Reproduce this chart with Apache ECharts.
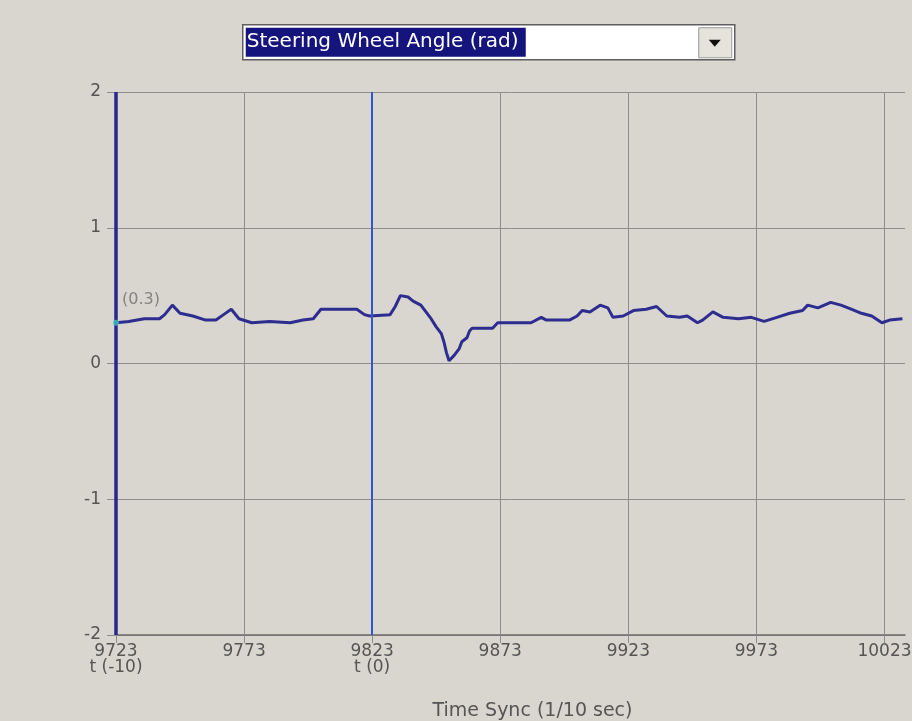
<!DOCTYPE html>
<html>
<head>
<meta charset="utf-8">
<script src="https://cdn.jsdelivr.net/npm/echarts@6/dist/echarts.min.js"></script>
<style>
  html, body { margin: 0; padding: 0; background: #d9d6d0; }
  #chart { width: 912px; height: 721px; }
</style>
</head>
<body>
<div id="chart"></div>
<script>
// Time sync ticks (1/10 sec) and their event-relative captions
const timeTicks = [9723, 9773, 9823, 9873, 9923, 9973, 10023];
const eventCaptions = { 9723: 't (-10)', 9823: 't (0)' };
const eventTimes = [9723, 9823];
const angleTicks = [-2, -1, 0, 1, 2];

// Steering wheel angle samples (rad)
const timeValues = [
  9723, 9728, 9734, 9740, 9742, 9745, 9748, 9753, 9758, 9762,
  9765, 9768, 9771, 9776, 9783, 9791, 9796, 9800, 9803, 9809,
  9817, 9820, 9822, 9830, 9832, 9834, 9837, 9839, 9842, 9844,
  9846, 9848, 9850, 9851, 9852, 9853, 9855, 9857, 9858, 9860,
  9861, 9862, 9870, 9872, 9885, 9889, 9891, 9900, 9903, 9905,
  9908, 9912, 9915, 9917, 9921, 9925, 9930, 9934, 9938, 9943,
  9946, 9950, 9952, 9956, 9960, 9966, 9971, 9976, 9981, 9986,
  9991, 9993, 9997, 10002, 10006, 10010, 10014, 10018, 10022, 10025,
  10030
];
const angleValues = [
  0.30, 0.31, 0.33, 0.33, 0.36, 0.43, 0.37, 0.35, 0.32, 0.32,
  0.36, 0.40, 0.33, 0.30, 0.31, 0.30, 0.32, 0.33, 0.40, 0.40,
  0.40, 0.36, 0.35, 0.36, 0.42, 0.50, 0.49, 0.46, 0.43, 0.38,
  0.33, 0.27, 0.22, 0.16, 0.08, 0.02, 0.06, 0.11, 0.16, 0.19,
  0.24, 0.26, 0.26, 0.30, 0.30, 0.34, 0.32, 0.32, 0.35, 0.39,
  0.38, 0.43, 0.41, 0.34, 0.35, 0.39, 0.40, 0.42, 0.35, 0.34,
  0.35, 0.30, 0.32, 0.38, 0.34, 0.33, 0.34, 0.31, 0.34, 0.37,
  0.39, 0.43, 0.41, 0.45, 0.43, 0.40, 0.37, 0.35, 0.30, 0.32,
  0.33
];

const seriesData = timeValues.map((t, i) => [t, angleValues[i]]);
const FONT = '"DejaVu Sans", Verdana, sans-serif';
const TEXT_GREY = '#555555';
const GRID_GREY = '#8e8e8e';

const chart = echarts.init(document.getElementById('chart'), null, { renderer: 'canvas' });

chart.setOption({
  backgroundColor: '#d9d6d0',
  animation: false,
  grid: { left: 116, right: 7, top: 92, bottom: 86, containLabel: false, outerBoundsMode: 'none' },
  xAxis: {
    type: 'value',
    min: timeTicks[0],
    max: 10031,
    interval: 50,
    name: 'Time Sync (1/10 sec)',
    nameLocation: 'middle',
    nameGap: 67,
    nameTextStyle: { color: TEXT_GREY, fontFamily: FONT, fontSize: 19, padding: [0, 0, 0, 44] },
    axisLine: { show: true, onZero: false, lineStyle: { color: '#6e6e6e', width: 1.5 } },
    axisTick: { show: true, length: 8, lineStyle: { color: GRID_GREY } },
    axisLabel: {
      color: TEXT_GREY, fontFamily: FONT, fontSize: 17, margin: 9, lineHeight: 16,
      showMaxLabel: false,
      formatter: v => timeTicks.includes(v)
        ? (eventCaptions[v] ? v + '\n' + eventCaptions[v] : String(v)) : ''
    },
    splitLine: { show: true, showMinLine: false, showMaxLine: false, lineStyle: { color: GRID_GREY, width: 1 } }
  },
  yAxis: {
    type: 'value',
    min: angleTicks[0],
    max: angleTicks[angleTicks.length - 1],
    interval: 1,
    axisLine: { show: false },
    axisTick: { show: true, length: 9, lineStyle: { color: GRID_GREY } },
    axisLabel: { color: TEXT_GREY, fontFamily: FONT, fontSize: 17, margin: 15 },
    splitLine: { show: true, lineStyle: { color: GRID_GREY, width: 1 } }
  },
  series: [
    {
      type: 'line',
      data: seriesData,
      showSymbol: false,
      lineStyle: { color: '#2f2c90', width: 3 },
      z: 4,
      markLine: {
        silent: true,
        symbol: 'none',
        label: { show: false },
        data: [
          { xAxis: eventTimes[0], lineStyle: { color: '#29278f', width: 3.5, type: 'solid' } },
          { xAxis: eventTimes[1], lineStyle: { color: '#3454cf', width: 2, type: 'solid' } }
        ]
      }
    },
    {
      type: 'scatter',
      data: [seriesData[0]],
      symbolSize: 6,
      itemStyle: { color: '#3fc4b8' },
      z: 6,
      label: {
        show: true,
        position: [9, -28],
        color: '#6e6e6e',
        fontFamily: FONT,
        fontSize: 16,
        formatter: p => '(' + p.value[1].toFixed(1) + ')'
      }
    }
  ],
  graphic: [
    {
      type: 'group',
      left: 242,
      top: 24,
      children: [
        { type: 'rect', shape: { x: 0, y: 0, width: 492, height: 35 },
          style: { fill: '#ffffff', stroke: '#5e5e5e', lineWidth: 1.5 } },
        { type: 'rect', shape: { x: 3, y: 3, width: 280, height: 29 },
          style: { fill: '#15137c' } },
        { type: 'text', x: 4, y: 17.5,
          style: { text: 'Steering Wheel Angle (rad)', fill: '#ffffff', font: '20px ' + FONT, textVerticalAlign: 'middle' } },
        { type: 'rect', shape: { x: 456, y: 3, width: 33, height: 30 },
          style: { fill: '#e6e3dd', stroke: '#9a9a9a', lineWidth: 1 } },
        { type: 'polygon', shape: { points: [[466, 15], [478, 15], [472, 22]] },
          style: { fill: '#111111' } }
      ]
    }
  ]
});
</script>
</body>
</html>
